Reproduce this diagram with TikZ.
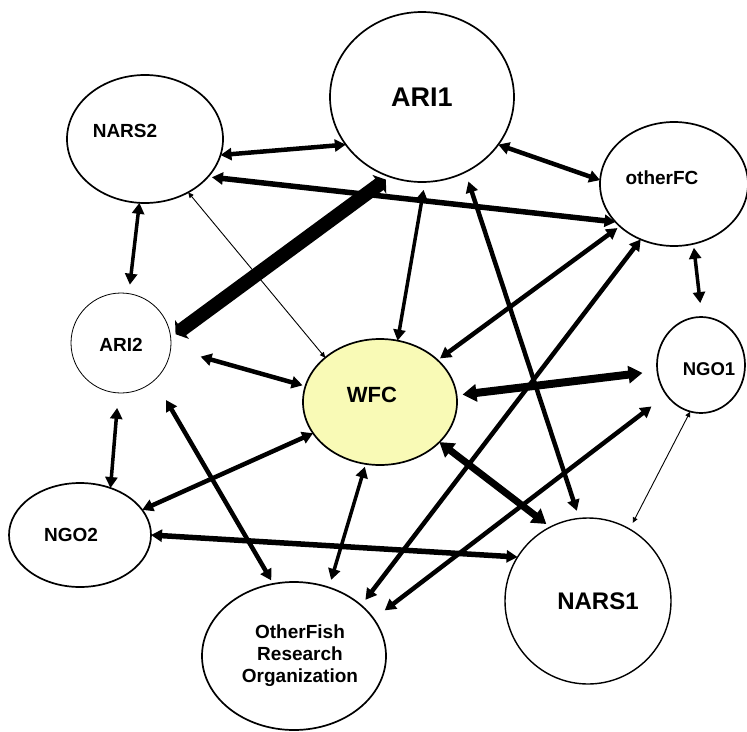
\documentclass[tikz,border=0pt]{standalone}
\usepackage{fontspec}
\setmainfont{Liberation Sans}
\usepackage{tikz}
\usetikzlibrary{shapes}
\usetikzlibrary{arrows.meta}

\definecolor{wfcyellow}{RGB}{249,250,182}

\tikzset{
    bubble/.style={ellipse, draw, line width=1.7pt, inner sep=0pt, outer sep=0pt},
    txt/.style={font=\fontsize{19}{22}\selectfont\bfseries, align=center},
    link/.style={line width=4.5pt, >={Triangle[length=11pt,width=12pt]}, <->},
    thinlink/.style={line width=0.9pt, >={Triangle[length=5.5pt,width=5pt]}, <->},
    heavy/.style={line width=8pt, >={Triangle[length=14pt,width=17pt]}, <->},
    huge/.style={line width=14pt, >={Triangle[length=8pt,width=23pt]}, <->}
}

\begin{document}
\begin{tikzpicture}[x=1pt, y=-1pt]
    \useasboundingbox (0,0) rectangle (747,731);

    % the organisations
    \node[bubble, minimum width=184pt, minimum height=170pt,
        label={[txt, font=\fontsize{27}{30}\selectfont\bfseries]center:ARI1}] (ari1) at (422,97) {};
    \node[bubble, minimum width=156pt, minimum height=128pt,
        label={[txt, xshift=-20pt, yshift=8pt]center:NARS2}] (nars2) at (145,139) {};
    \node[bubble, minimum width=148pt, minimum height=124pt,
        label={[txt, xshift=-12pt, yshift=6pt]center:otherFC}] (otherfc) at (674,184) {};
    \node[bubble, line width=0.8pt, minimum width=100pt, minimum height=100pt,
        label={[txt, yshift=-2pt]center:ARI2}] (ari2) at (121,343) {};
    \node[bubble, fill=wfcyellow, minimum width=154pt, minimum height=126pt,
        label={[txt, font=\fontsize{22}{25}\selectfont\bfseries, xshift=-8pt, yshift=7pt]center:WFC}] (wfc) at (380,402) {};
    \node[bubble, minimum width=88pt, minimum height=96pt,
        label={[txt, font=\fontsize{18.5}{21}\selectfont\bfseries, xshift=8pt, yshift=-4pt]center:NGO1}] (ngo1) at (701,365) {};
    \node[bubble, minimum width=142pt, minimum height=104pt,
        label={[txt, xshift=-9pt]center:NGO2}] (ngo2) at (80,535) {};
    \node[bubble, line width=1.4pt, minimum width=166pt, minimum height=166pt,
        label={[txt, font=\fontsize{24}{27}\selectfont\bfseries, xshift=10pt]center:NARS1}] (nars1) at (588,601) {};
    \node[bubble, minimum width=184pt, minimum height=148pt,
        label={[txt, xshift=6pt]center:OtherFish\\Research\\Organization}] (fish) at (294,656) {};

    % links around ARI1 and NARS2
    \draw[link] (nars2.-12) -- (ari1.-148);
    \draw[link, line width=5.5pt, shorten <=4pt] (nars2.-31) -- (otherfc.-147);
    \draw[huge, shorten <=5pt, shorten >=6pt] (ari1.-112) -- (ari2.6);
    \draw[thinlink] (nars2.-51) -- (wfc.141);
    \draw[link, line width=3.5pt, shorten >=9pt] (nars2.-95) -- (ari2.81);
    \draw[link, line width=3.5pt, shorten <=8pt] (ari1.-88) -- (wfc.74);
    \draw[link, shorten <=10pt, shorten >=8pt] (ari1.-60) -- (nars1.96);
    \draw[link] (ari1.-32) -- (otherfc.177);

    % links from otherFC
    \draw[link, line width=3.5pt, shorten <=4pt, shorten >=14pt] (otherfc.-72) -- (ngo1.89);
    \draw[link, shorten <=3pt, shorten >=3pt] (otherfc.-142) -- (wfc.36);
    \draw[link, shorten >=7pt] (otherfc.-121) -- (fish.37);

    % links from ARI2 and NGO2
    \draw[link, shorten <=31pt, shorten >=3pt] (ari2.-6) -- (wfc.168);
    \draw[link, shorten <=23pt, shorten >=4pt] (ari2.-48) -- (fish.106);
    \draw[link, line width=3.5pt, shorten <=15pt] (ari2.-93) -- (ngo2.57);
    \draw[link] (ngo2.22) -- (wfc.-155);
    \draw[link, line width=5.5pt] (ngo2.0) -- (nars1.148);

    % links from WFC and NGO1
    \draw[heavy, shorten <=6pt, shorten >=15pt] (wfc.5) -- (ngo1.-172);
    \draw[heavy, line width=7pt, shorten >=5pt] (wfc.-34) -- (nars1.117);
    \draw[link, line width=3.5pt, shorten <=3pt, shorten >=8pt] (wfc.-103) -- (fish.63);
    \draw[link, shorten <=19pt, shorten >=14pt] (ngo1.-139) -- (fish.25);
    \draw[thinlink, shorten >=7pt] (ngo1.-103) -- (nars1.60);
\end{tikzpicture}
\end{document}
